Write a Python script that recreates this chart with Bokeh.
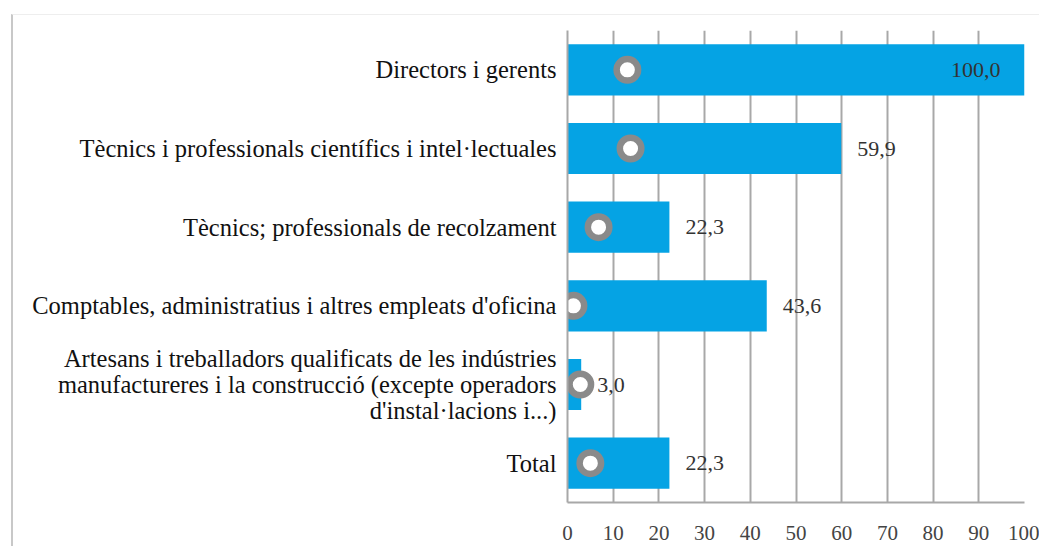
from bokeh.plotting import figure
from bokeh.models import ColumnDataSource, FactorRange, Range1d, FixedTicker
from bokeh.core.properties import value
from bokeh.embed import file_html
from bokeh.resources import INLINE

categories = [
    "Directors i gerents",
    "Tècnics i professionals científics i intel·lectuales",
    "Tècnics; professionals de recolzament",
    "Comptables, administratius i altres empleats d'oficina",
    "Artesans i treballadors qualificats de les indústries\nmanufactureres i la construcció (excepte operadors\nd'instal·lacions i...)",
    "Total",
]
values = [100.0, 59.9, 22.3, 43.6, 3.0, 22.3]
value_labels = ["100,0", "59,9", "22,3", "43,6", "3,0", "22,3"]
markers = [13.1, 13.8, 6.8, 1.3, 2.8, 5.0]
x_ticks = [0, 10, 20, 30, 40, 50, 60, 70, 80, 90, 100]

SERIF = "Liberation Serif"
BAR = "#05a3e4"
GRID = "#a8a8a8"

inside = [v >= 90 for v in values]
src = ColumnDataSource(dict(cat=categories, val=values, mk=markers, lab=value_labels))
src_out = ColumnDataSource(dict(
    cat=[c for c, i in zip(categories, inside) if not i],
    val=[v for v, i in zip(values, inside) if not i],
    lab=[l for l, i in zip(value_labels, inside) if not i]))
src_in = ColumnDataSource(dict(
    cat=[c for c, i in zip(categories, inside) if i],
    val=[v for v, i in zip(values, inside) if i],
    lab=[l for l, i in zip(value_labels, inside) if i]))

factors = list(reversed(categories))
p = figure(
    width=1028, height=532,
    y_range=FactorRange(*factors),
    x_range=Range1d(0, 100),
    output_backend="svg", toolbar_location=None,
    min_border_left=554, min_border_right=17,
    min_border_top=15, min_border_bottom=45,
)
p.margin = (14, 0, 0, 11)
p.styles = {"border-left": "2px solid #c8c8c8", "border-top": "1px solid #eeeeee"}
p.outline_line_color = None
p.background_fill_color = "white"
p.border_fill_color = "white"

p.hbar(y="cat", right="val", left=0, height=0.65, source=src,
       fill_color=BAR, line_color=None)
p.scatter(x="mk", y="cat", source=src, size=21.5, line_width=6.5,
          line_color="#8a8a8a", fill_color="white")

p.text(x="val", y="cat", text="lab", source=src_out, x_offset=16,
       text_font=value(SERIF), text_font_size="22px", text_color="#333333",
       text_baseline="middle", text_align="left")
p.text(x="val", y="cat", text="lab", source=src_in, x_offset=-24,
       text_font=value(SERIF), text_font_size="22px", text_color="#333333",
       text_baseline="middle", text_align="right")

p.xgrid.grid_line_color = GRID
p.xgrid.grid_line_width = 2
p.ygrid.grid_line_color = None
p.xaxis.ticker = FixedTicker(ticks=x_ticks)
p.xaxis.axis_line_color = GRID
p.xaxis.axis_line_width = 2
p.xaxis.major_tick_line_color = None
p.xaxis.minor_tick_line_color = None
p.xaxis.major_label_text_font = SERIF
p.xaxis.major_label_text_font_size = "21px"
p.xaxis.major_label_text_color = "#444444"
p.xaxis.major_label_standoff = 17

p.yaxis.axis_line_color = GRID
p.yaxis.axis_line_width = 2
p.yaxis.major_tick_line_color = None
p.yaxis.minor_tick_line_color = None
p.yaxis.major_label_text_font = SERIF
p.yaxis.major_label_text_font_size = "24.5px"
p.yaxis.major_label_text_color = "#111111"
p.yaxis.major_label_text_line_height = 0.98
p.yaxis.major_label_standoff = 5

open("out.html", "w").write(file_html(p, INLINE))
